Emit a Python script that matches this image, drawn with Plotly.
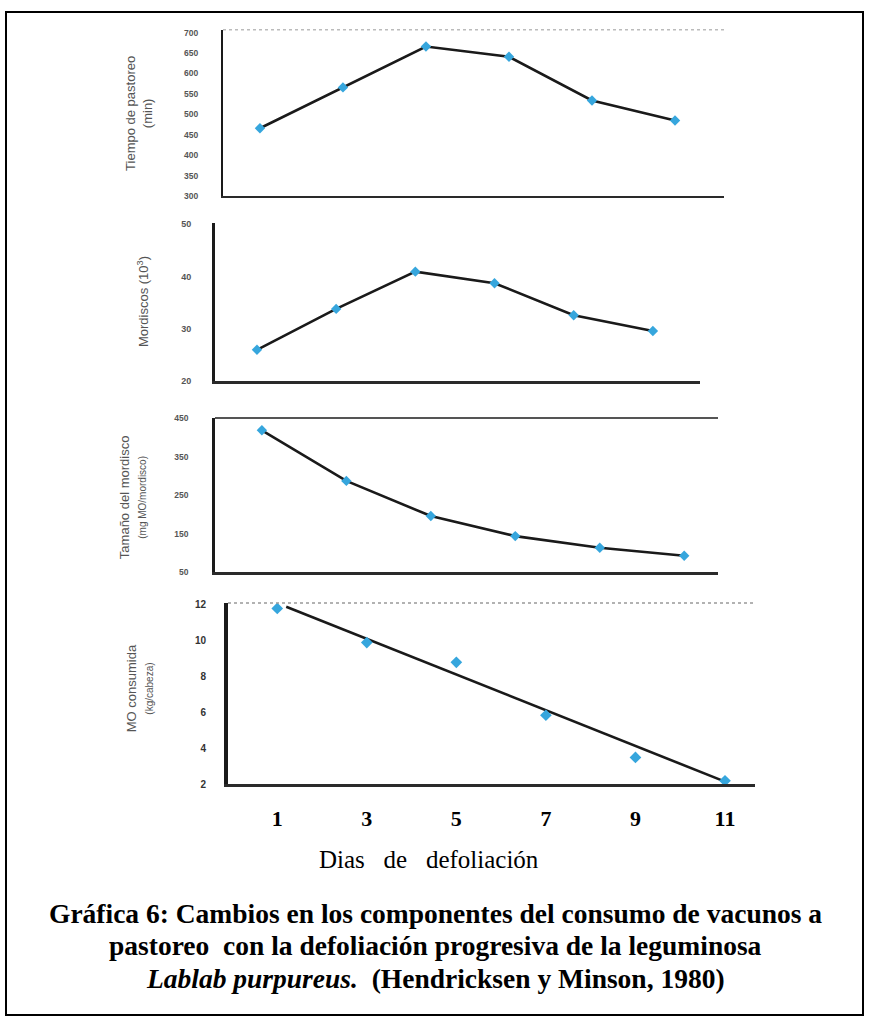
import plotly.graph_objects as go

# ---------------- data ----------------
dias = [1, 3, 5, 7, 9, 11]
tiempo_pastoreo = [466, 566, 666, 641, 534, 485]        # min
mordiscos = [26.0, 33.8, 40.9, 38.7, 32.6, 29.6]         # 10^3
tamano_mordisco = [418, 287, 196, 144, 114, 93]          # mg MO/mordisco
mo_consumida = [11.8, 9.9, 8.8, 5.85, 3.5, 2.2]          # kg/cabeza
ajuste_x = [1.2, 11]                                     # regression line ends
ajuste_y = [11.9, 2.15]

ticks_tiempo = [300, 350, 400, 450, 500, 550, 600, 650, 700]
ticks_mordiscos = [20, 30, 40, 50]
ticks_tamano = [50, 150, 250, 350, 450]
ticks_mo = [2, 4, 6, 8, 10, 12]
ticks_dias = [1, 3, 5, 7, 9, 11]

titulo_y = [
    "Tiempo de pastoreo<br>(min)",
    "Mordiscos (10<sup>3</sup>)",
    "Tamaño del mordisco<br><span style='font-size:10px'>(mg MO/mordisco)</span>",
    "MO consumida<br><span style='font-size:10px'>(kg/cabeza)</span>",
]
titulo_x = "Dias&nbsp;&nbsp; de&nbsp;&nbsp; defoliación"
leyenda = [
    "<b>Gráfica 6: Cambios en los componentes del consumo de vacunos a</b>",
    "<b>pastoreo  con la defoliación progresiva de la leguminosa</b>",
    "<b><i>Lablab purpureus.</i>  (Hendricksen y Minson, 1980)</b>",
]

# ---------------- layout helpers ----------------
W, H = 869, 1026
def px(x):
    return x / W
def py(y):
    return 1 - y / H

BLUE = "#36a6dd"
GRAY = "#555555"

fig = go.Figure()

series = [tiempo_pastoreo, mordiscos, tamano_mordisco]
for i, s in enumerate(series):
    sfx = "" if i == 0 else str(i + 1)
    fig.add_trace(go.Scatter(
        x=dias, y=s, mode="lines+markers", xaxis="x" + sfx, yaxis="y" + sfx,
        line=dict(color="#1a1a1a", width=2.6),
        marker=dict(symbol="diamond", size=8, color=BLUE),
        showlegend=False, hoverinfo="x+y"))

fig.add_trace(go.Scatter(
    x=ajuste_x, y=ajuste_y, mode="lines", xaxis="x4", yaxis="y4",
    line=dict(color="#1a1a1a", width=2.6), showlegend=False))
fig.add_trace(go.Scatter(
    x=dias, y=mo_consumida, mode="markers", xaxis="x4", yaxis="y4",
    marker=dict(symbol="diamond", size=9, color=BLUE), showlegend=False))

panels = [
    dict(x0=223, x1=724, yt=25, yb=193, xr=[0.11, 12.18], yr=[300, 707],
         tv=ticks_tiempo, lw_y=2, lw_x=2, tfs=8.5, stand=21),
    dict(x0=215, x1=700, yt=220, yb=380, xr=[-0.06, 12.19], yr=[20, 50.2],
         tv=ticks_mordiscos, lw_y=3, lw_x=3, tfs=9, stand=19),
    dict(x0=215, x1=718, yt=417, yb=573, xr=[-0.11, 11.8], yr=[50, 450],
         tv=ticks_tamano, lw_y=2.5, lw_x=2.5, tfs=8.5, stand=22),
    dict(x0=228, x1=755, yt=604, yb=787, xr=[-0.1, 11.67], yr=[2, 12.1],
         tv=ticks_mo, lw_y=4, lw_x=3, tfs=10, stand=16),
]

layout = dict(
    width=W, height=H, margin=dict(l=0, r=0, t=0, b=0),
    paper_bgcolor="white", plot_bgcolor="white", showlegend=False,
)
for i, p in enumerate(panels):
    sfx = "" if i == 0 else str(i + 1)
    last = i == 3
    layout["xaxis" + sfx] = dict(
        domain=[px(p["x0"]), px(p["x1"])], range=p["xr"], anchor="y" + sfx,
        showgrid=False, zeroline=False, showline=True,
        linecolor="#2a2a2a", linewidth=p["lw_x"],
        showticklabels=last, tickvals=ticks_dias if last else None,
        ticks="", ticklabelstandoff=12 if last else 0,
        tickfont=dict(family="Liberation Serif", size=22, color="black",
                      weight="bold"),
    )
    layout["yaxis" + sfx] = dict(
        domain=[py(p["yb"]), py(p["yt"])], range=p["yr"], anchor="x" + sfx,
        showgrid=False, zeroline=False, showline=True,
        linecolor="#1a1a1a", linewidth=p["lw_y"],
        tickvals=p["tv"], ticks="", ticklabelstandoff=p["stand"],
        tickfont=dict(family="Arial", size=p["tfs"],
                      color="#333333" if last else GRAY, weight="bold"),
    )
fig.update_layout(**layout)

# top reference lines of panels (scan look)
top_lines = [
    dict(i=0, color="#bbbbbb", dash="dot", width=1.5),
    dict(i=2, color="#555555", dash="solid", width=2),
    dict(i=3, color="#999999", dash="dot", width=1.5),
]
for t in top_lines:
    sfx = "" if t["i"] == 0 else str(t["i"] + 1)
    fig.add_shape(type="line", xref="x" + sfx + " domain", yref="y" + sfx + " domain",
                  x0=0, x1=1, y0=1, y1=1,
                  line=dict(color=t["color"], dash=t["dash"], width=t["width"]))

# outer frame
fig.add_shape(type="rect", xref="paper", yref="paper",
              x0=px(6), x1=px(863), y0=py(1020), y1=py(7),
              line=dict(color="black", width=2))

# y-axis titles
ytit_pos = [(139, 110), (143, 300), (132, 497), (139, 690)]
for txt, (x, y) in zip(titulo_y, ytit_pos):
    fig.add_annotation(text=txt, xref="paper", yref="paper", x=px(x), y=py(y),
                       xanchor="center", yanchor="middle",
                       showarrow=False, textangle=-90,
                       font=dict(family="Arial", size=13, color=GRAY))

# x-axis title
fig.add_annotation(text=titulo_x, xref="paper", yref="paper", x=px(429), y=py(863),
                   xanchor="center", yanchor="middle", showarrow=False,
                   font=dict(family="Liberation Serif", size=25, color="black"))

# caption
for txt, y in zip(leyenda, [917, 950, 983]):
    fig.add_annotation(text=txt, xref="paper", yref="paper", x=px(435), y=py(y),
                       xanchor="center", yanchor="middle", showarrow=False,
                       font=dict(family="Liberation Serif", size=27.5, color="black"))

fig.write_html("out.html",
               config={"displayModeBar": False},
               post_script="document.body.style.margin='0px';")
